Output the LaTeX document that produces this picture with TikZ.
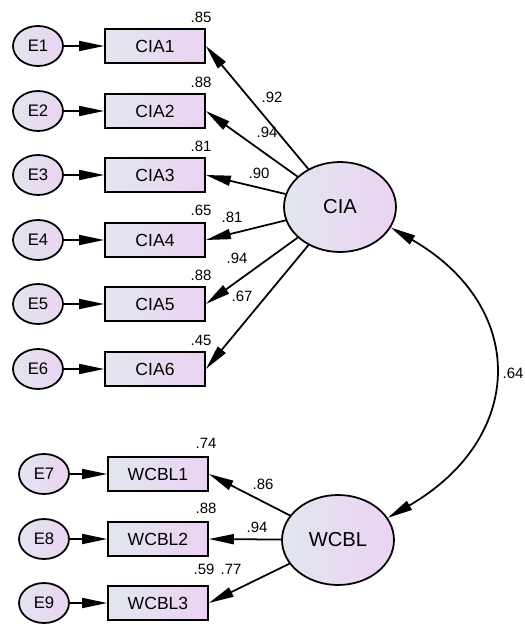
\documentclass[tikz,border=0pt]{standalone}
\usepackage{fontspec}
\setmainfont{Liberation Sans}
\usetikzlibrary{arrows.meta}
\usetikzlibrary{shapes.geometric}

\definecolor{fillA}{HTML}{E2E6EE}
\definecolor{fillB}{HTML}{EBD3F3}

\tikzset{
    obs/.style={draw, line width=1pt, rectangle, minimum width=2cm, minimum height=0.68cm,
        left color=fillA, right color=fillB, font=\fontsize{10}{12}\selectfont, inner sep=0pt},
    err/.style={draw, line width=1pt, ellipse, minimum width=1cm, minimum height=0.8cm,
        left color=fillA, right color=fillB, font=\fontsize{9.5}{11}\selectfont, inner sep=0pt},
    lat/.style={draw, line width=1pt, ellipse, minimum width=2.24cm, minimum height=1.8cm,
        left color=fillA, right color=fillB, font=\fontsize{11.5}{13}\selectfont, inner sep=0pt},
    est/.style={font=\fontsize{8.5}{10}\selectfont, inner sep=0pt},
    path/.style={line width=1pt, -{Triangle[length=0.5cm,width=0.2cm]}},
}

\begin{document}
\begin{tikzpicture}[x=0.02cm, y=-0.02cm]
    \useasboundingbox (0,0) rectangle (524,625);

    \node [lat] (cia) at (340,207) {CIA};
    \node [lat] (wcbl) at (338,540) {WCBL};

    \node [obs] (cia1) at (155,46) {CIA1};
    \node [obs] (cia2) at (155,111) {CIA2};
    \node [obs] (cia3) at (155,175) {CIA3};
    \node [obs] (cia4) at (155,240) {CIA4};
    \node [obs] (cia5) at (155,304) {CIA5};
    \node [obs] (cia6) at (155,369) {CIA6};
    \node [obs] (wcbl1) at (158,474) {WCBL1};
    \node [obs] (wcbl2) at (158,539) {WCBL2};
    \node [obs] (wcbl3) at (158,603) {WCBL3};

    \node [err] (e1) at (38,46) {E1};
    \node [err] (e2) at (38,111) {E2};
    \node [err] (e3) at (38,175) {E3};
    \node [err] (e4) at (38,240) {E4};
    \node [err] (e5) at (38,304) {E5};
    \node [err] (e6) at (38,369) {E6};
    \node [err] (e7) at (44,474) {E7};
    \node [err] (e8) at (44,539) {E8};
    \node [err] (e9) at (44,603) {E9};

    \draw [path] (e1) -- (cia1);
    \draw [path] (e2) -- (cia2);
    \draw [path] (e3) -- (cia3);
    \draw [path] (e4) -- (cia4);
    \draw [path] (e5) -- (cia5);
    \draw [path] (e6) -- (cia6);
    \draw [path] (e7) -- (wcbl1);
    \draw [path] (e8) -- (wcbl2);
    \draw [path] (e9) -- (wcbl3);

    \draw [path] (cia) -- (cia1.east);
    \draw [path] (cia) -- (cia2.east);
    \draw [path] (cia) -- (cia3.east);
    \draw [path] (cia) -- (cia4.east);
    \draw [path] (cia) -- (cia5.east);
    \draw [path] (cia) -- (cia6.east);
    \draw [path] (wcbl) -- (wcbl1.east);
    \draw [path] (wcbl) -- (wcbl2.east);
    \draw [path] (wcbl) -- (wcbl3.east);

    \draw [line width=1pt, {Triangle[length=0.5cm,width=0.2cm]}-{Triangle[length=0.5cm,width=0.2cm]}]
        (cia.-22) to [out=-30, in=30, looseness=1.4] (wcbl.24);

    \node [est] (r1) at (201,17) {.85};
    \node [est] (r2) at (201,82) {.88};
    \node [est] (r3) at (201,146) {.81};
    \node [est] (r4) at (201,210) {.65};
    \node [est] (r5) at (201,275) {.88};
    \node [est] (r6) at (201,340) {.45};
    \node [est] (r7) at (206,443) {.74};
    \node [est] (r8) at (206,508) {.88};
    \node [est] (r9) at (204,569) {.59};

    \node [est] (l1) at (272,97) {.92};
    \node [est] (l2) at (267,132) {.94};
    \node [est] (l3) at (259,173) {.90};
    \node [est] (l4) at (232,217) {.81};
    \node [est] (l5) at (237,258) {.94};
    \node [est] (l6) at (242,296) {.67};
    \node [est] (l7) at (263,484) {.86};
    \node [est] (l8) at (257,527) {.94};
    \node [est] (l9) at (231,569) {.77};

    \node [est] (c1) at (513,373) {.64};
\end{tikzpicture}
\end{document}
